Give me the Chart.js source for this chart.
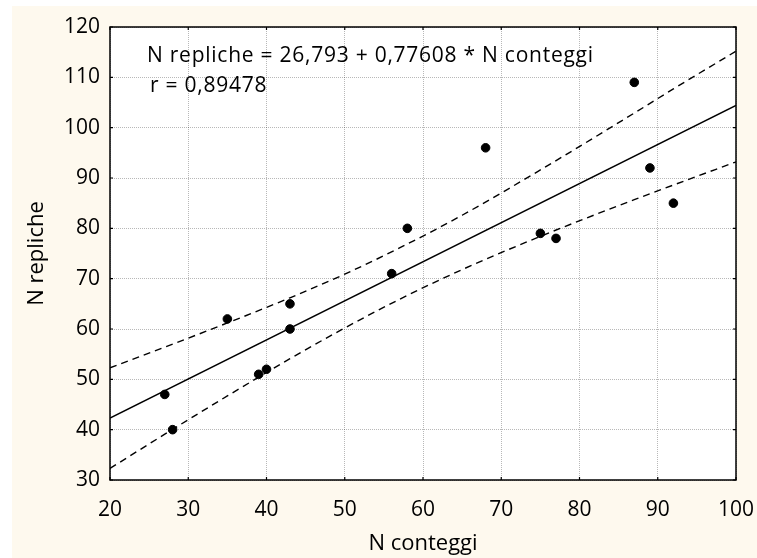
<!DOCTYPE html>
<html>
<head>
<meta charset="utf-8">
<script src="https://cdn.jsdelivr.net/npm/chart.js@4"></script>
<style>
  body { margin: 0; background: #fff; }
  #wrap { width: 757px; height: 558px; }
</style>
</head>
<body>
<div id="wrap"><canvas id="chart" width="757" height="558"></canvas></div>
<script>
// observed points
const conteggi = [27, 28, 35, 39, 40, 43, 43, 56, 58, 68, 75, 77, 87, 89, 92];
const repliche = [47, 40, 62, 51, 52, 65, 60, 71, 80, 96, 79, 78, 109, 92, 85];

// regression line (read at the plot edges)
const lineX = [20, 100];
const lineY = [42.3, 104.4];

// confidence band
const bandX = [20, 27, 35, 43, 50, 57, 65, 75, 87, 92, 100];
const bandUpper = [52.3, 56.4, 61.2, 66.2, 70.9, 76.1, 82.6, 91.6, 102.9, 107.7, 115.2];
const bandLower = [32.3, 39.1, 46.7, 54.1, 60.2, 65.9, 71.8, 78.4, 85.7, 88.6, 93.2];

const xTicks = [20, 30, 40, 50, 60, 70, 80, 90, 100];
const yTicks = [30, 40, 50, 60, 70, 80, 90, 100, 110, 120];

const eqText = "N repliche = 26,793 + 0,77608 * N conteggi";
const rText = "r = 0,89478";

const FONT = "'Open Sans', 'Liberation Sans', sans-serif";

function toXY(xs, ys) {
  return xs.map((x, i) => ({ x: x, y: ys[i] }));
}

// cream page, white plot area
const background = {
  id: "background",
  beforeDraw(chart) {
    const ctx = chart.ctx;
    const a = chart.chartArea;
    ctx.save();
    ctx.fillStyle = "#fef9ee";
    ctx.fillRect(12, 6, chart.width - 12, chart.height - 6);
    ctx.fillStyle = "#ffffff";
    ctx.fillRect(a.left, a.top, a.right - a.left, a.bottom - a.top);
    ctx.restore();
  },
};

// frame with inward ticks, plus the equation text
const frame = {
  id: "frame",
  afterDraw(chart) {
    const ctx = chart.ctx;
    const a = chart.chartArea;
    const xs = chart.scales.x;
    const ys = chart.scales.y;
    ctx.save();
    ctx.strokeStyle = "#000";
    ctx.lineWidth = 1.5;
    ctx.strokeRect(a.left, a.top, a.right - a.left, a.bottom - a.top);
    ctx.lineWidth = 1.2;
    ctx.beginPath();
    xTicks.forEach((v) => {
      const px = xs.getPixelForValue(v);
      ctx.moveTo(px, a.bottom); ctx.lineTo(px, a.bottom - 3);
      ctx.moveTo(px, a.top); ctx.lineTo(px, a.top + 3);
    });
    yTicks.forEach((v) => {
      const py = ys.getPixelForValue(v);
      ctx.moveTo(a.left, py); ctx.lineTo(a.left + 3, py);
      ctx.moveTo(a.right, py); ctx.lineTo(a.right - 3, py);
    });
    ctx.stroke();

    ctx.fillStyle = "#000";
    ctx.font = "21px " + FONT;
    ctx.textAlign = "left";
    ctx.textBaseline = "alphabetic";
    if ("letterSpacing" in ctx) ctx.letterSpacing = "0.75px";
    ctx.fillText(eqText, a.left + 37, 62);
    ctx.fillText(rText, a.left + 40, 92);
    ctx.restore();
  },
};

new Chart(document.getElementById("chart"), {
  type: "scatter",
  data: {
    datasets: [
      {
        data: toXY(conteggi, repliche),
        backgroundColor: "#000",
        borderColor: "#000",
        pointRadius: 4.3,
        pointHoverRadius: 4.3,
      },
      {
        data: toXY(lineX, lineY),
        showLine: true,
        borderColor: "#000",
        borderWidth: 1.5,
        pointRadius: 0,
      },
      {
        data: toXY(bandX, bandUpper),
        showLine: true,
        borderColor: "#000",
        borderWidth: 1.4,
        borderDash: [7, 5],
        cubicInterpolationMode: "monotone",
        pointRadius: 0,
      },
      {
        data: toXY(bandX, bandLower),
        showLine: true,
        borderColor: "#000",
        borderWidth: 1.4,
        borderDash: [7, 5],
        cubicInterpolationMode: "monotone",
        pointRadius: 0,
      },
    ],
  },
  options: {
    responsive: false,
    animation: false,
    events: [],
    layout: { padding: { top: 27, right: 21, bottom: 0, left: 0 } },
    plugins: {
      legend: { display: false },
      tooltip: { enabled: false },
    },
    scales: {
      x: {
        type: "linear",
        min: 20,
        max: 100,
        afterBuildTicks: (scale) => { scale.ticks = xTicks.map((v) => ({ value: v })); },
        afterFit: (scale) => {
          scale.height = 78;
          scale.paddingLeft = 0;
          scale.paddingRight = 0;
        },
        grid: { color: "rgba(0,0,0,0.28)", drawTicks: false },
        border: { display: false, dash: [1, 1] },
        ticks: {
          padding: 17,
          color: "#000",
          font: { family: FONT, size: 21 },
          callback: (v) => String(v),
        },
        title: {
          display: true,
          text: "N conteggi",
          color: "#000",
          font: { family: FONT, size: 22 },
          padding: { top: 0, bottom: 1 },
        },
      },
      y: {
        type: "linear",
        min: 30,
        max: 120,
        afterBuildTicks: (scale) => { scale.ticks = yTicks.map((v) => ({ value: v })); },
        afterFit: (scale) => {
          scale.width = 110;
          scale.paddingTop = 0;
          scale.paddingBottom = 0;
        },
        grid: { color: "rgba(0,0,0,0.28)", drawTicks: false },
        border: { display: false, dash: [1, 1] },
        ticks: {
          padding: 10,
          color: "#000",
          font: { family: FONT, size: 21 },
          callback: (v) => String(v),
        },
        title: {
          display: true,
          text: "N repliche",
          color: "#000",
          font: { family: FONT, size: 22 },
          padding: { top: 24, bottom: 0 },
        },
      },
    },
  },
  plugins: [background, frame],
});
</script>
</body>
</html>
